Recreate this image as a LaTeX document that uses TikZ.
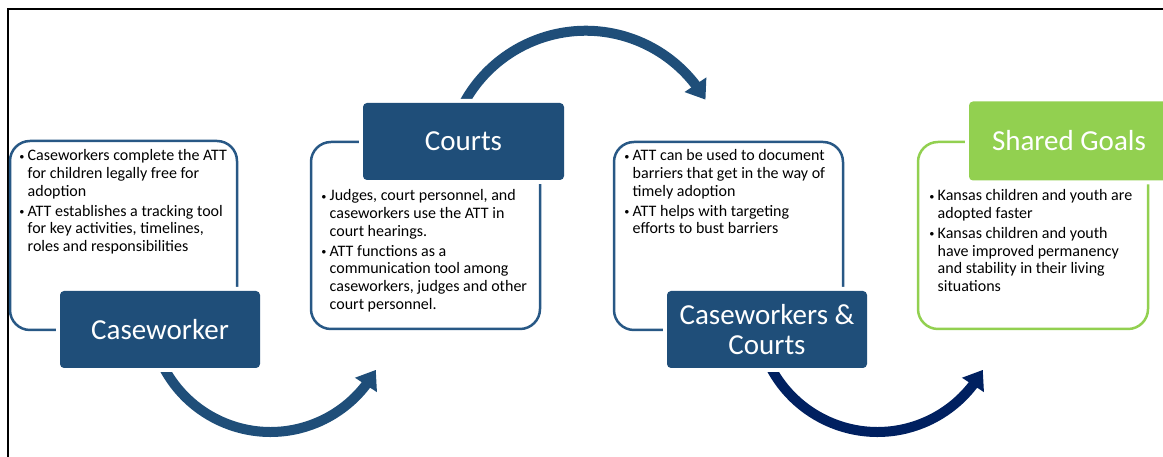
\documentclass[tikz,border=0pt]{standalone}
\usepackage{fontspec}
\setmainfont{Carlito}
\usetikzlibrary{arrows.meta,bending}
\definecolor{hdrblue}{RGB}{31,78,121}
\definecolor{boxblue}{RGB}{40,88,133}
\definecolor{navy}{RGB}{0,32,96}
\definecolor{goalgreen}{RGB}{146,208,80}
\newcommand\bitem{\makebox[7.5pt][l]{\hspace{-0.5pt}\raisebox{1.8pt}{\fontsize{9}{9}\selectfont$\bullet$}}}
\tikzset{
  tbox/.style={draw=boxblue, line width=2.5pt, rounded corners=20pt, inner sep=0pt},
  gbox/.style={tbox, draw=goalgreen},
  hdr/.style={fill=hdrblue, rounded corners=4pt, inner sep=0pt, minimum width=200pt, minimum height=77pt,
    text=white, font=\fontsize{29}{30}\selectfont, align=center,
    preaction={draw=white, line width=8pt}},
  ghdr/.style={hdr, fill=goalgreen},
  listtext/.style={anchor=base west, inner sep=0pt, font=\fontsize{16}{17.6}\selectfont, align=left},
  arr/.style={line width=10pt, draw=hdrblue, -{Triangle[length=18pt, width=25pt]}},
  arrnavy/.style={arr, draw=navy}
}
\begin{document}
\begin{tikzpicture}[x=1pt,y=1pt]
\useasboundingbox (0,0) rectangle (1163,457);
% frame
\draw[line width=2pt] (7.5,0) -- (7.5,448) -- (1163,448);
% text boxes
\node[tbox, minimum width=227pt, minimum height=189pt] (b1) at (123.5,221.5) {};
\node[tbox, minimum width=229pt, minimum height=187pt] (b2) at (425.5,221.5) {};
\node[tbox, minimum width=229pt, minimum height=188pt] (b3) at (728.5,221) {};
\node[gbox, minimum width=230pt, minimum height=187pt] (b4) at (1033,221.5) {};
% texts
\node[listtext] (t1) at (20,296) {\begin{tabular}[t]{@{}l@{}l@{}}
\bitem & Caseworkers complete the ATT\\
 & for children legally free for\\
 & adoption\\[2.5pt]
\bitem & ATT establishes a tracking tool\\
 & for key activities, timelines,\\
 & roles and responsibilities
\end{tabular}};
\node[listtext] (t2) at (322,256) {\begin{tabular}[t]{@{}l@{}l@{}}
\bitem & Judges, court personnel, and\\
 & caseworkers use the ATT in\\
 & court hearings.\\[2.5pt]
\bitem & ATT functions as a\\
 & communication tool among\\
 & caseworkers, judges and other\\
 & court personnel.
\end{tabular}};
\node[listtext] (t3) at (625,296) {\begin{tabular}[t]{@{}l@{}l@{}}
\bitem & ATT can be used to document\\
 & barriers that get in the way of\\
 & timely adoption\\[2.5pt]
\bitem & ATT helps with targeting\\
 & efforts to bust barriers
\end{tabular}};
\node[listtext] (t4) at (930,256) {\begin{tabular}[t]{@{}l@{}l@{}}
\bitem & Kansas children and youth are\\
 & adopted faster\\[2.5pt]
\bitem & Kansas children and youth\\
 & have improved permanency\\
 & and stability in their living\\
 & situations
\end{tabular}};
% arrows
\coordinate (a1s) at (157.2,104.3);
\coordinate (a2s) at (460.1,346.2);
\coordinate (a3s) at (764.2,104.3);
\draw[arr] (a1s) arc[start angle=200, end angle=331, radius=120.5];
\draw[arr] (a2s) arc[start angle=155, end angle=30.2, radius=138.6];
\draw[arrnavy] (a3s) arc[start angle=200, end angle=331, radius=120.5];
% headers
\node[hdr] (h1) at (160,127.5) {Caseworker};
\node[hdr, minimum width=201pt] (h2) at (463.5,315.5) {Courts};
\node[hdr] (h3) at (767,127.5) {Caseworkers \&\\Courts};
\node[ghdr, minimum height=79pt] (h4) at (1069,316) {Shared Goals};
\end{tikzpicture}
\end{document}
